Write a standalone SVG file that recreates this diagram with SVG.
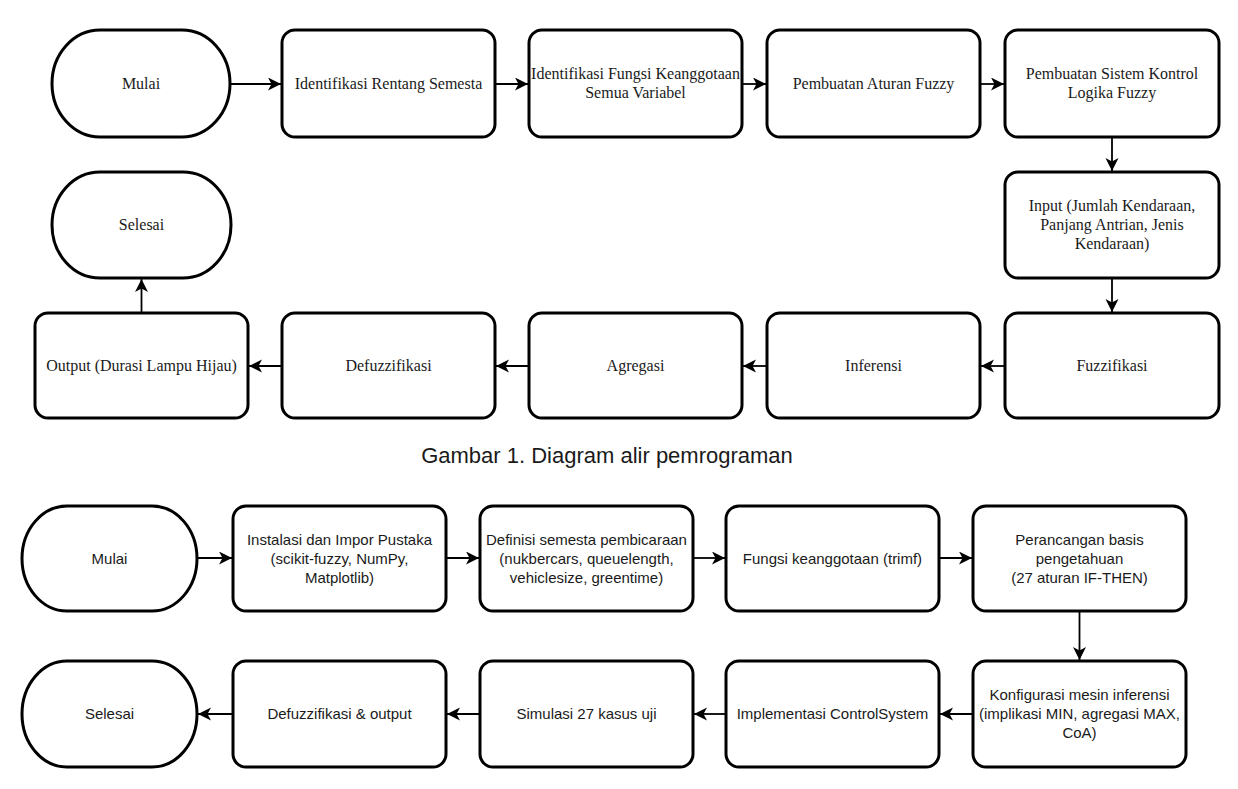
<svg xmlns="http://www.w3.org/2000/svg" width="1238" height="789" viewBox="0 0 1238 789">
<style>
.shape{fill:#fff;stroke:#000;stroke-width:3}
.edge{fill:none;stroke:#000;stroke-width:1.8}
.t1{font-family:"Liberation Serif","Times New Roman",serif;font-size:16px;fill:#1a1a1a;text-anchor:middle}
.t2{font-family:"Liberation Sans",Arial,sans-serif;font-size:15px;fill:#1a1a1a;text-anchor:middle}
.cap{font-family:"Liberation Sans",Arial,sans-serif;font-size:22px;fill:#1a1a1a;text-anchor:middle}
</style>
<defs>
<marker id="arr" markerUnits="userSpaceOnUse" markerWidth="14" markerHeight="14" refX="13" refY="6.5" orient="auto">
<path d="M0,0 L13,6.5 L0,13 L3.5,6.5 z" fill="#000"/>
</marker>
</defs>
<rect width="1238" height="789" fill="#fff"/>

<g id="connectors">
<line class="edge" x1="230" y1="84" x2="281" y2="84" marker-end="url(#arr)"/>
<line class="edge" x1="495" y1="84" x2="528" y2="84" marker-end="url(#arr)"/>
<line class="edge" x1="742" y1="84" x2="766" y2="84" marker-end="url(#arr)"/>
<line class="edge" x1="980" y1="84" x2="1004" y2="84" marker-end="url(#arr)"/>
<line class="edge" x1="1112" y1="137" x2="1112" y2="171" marker-end="url(#arr)"/>
<line class="edge" x1="1112" y1="278" x2="1112" y2="312" marker-end="url(#arr)"/>
<line class="edge" x1="1005" y1="366" x2="981" y2="366" marker-end="url(#arr)"/>
<line class="edge" x1="767" y1="366" x2="743" y2="366" marker-end="url(#arr)"/>
<line class="edge" x1="529" y1="366" x2="496" y2="366" marker-end="url(#arr)"/>
<line class="edge" x1="282" y1="366" x2="249" y2="366" marker-end="url(#arr)"/>
<line class="edge" x1="141.5" y1="313" x2="141.5" y2="279" marker-end="url(#arr)"/>

<line class="edge" x1="197" y1="558" x2="232" y2="558" marker-end="url(#arr)"/>
<line class="edge" x1="446" y1="558" x2="479" y2="558" marker-end="url(#arr)"/>
<line class="edge" x1="693" y1="558" x2="725" y2="558" marker-end="url(#arr)"/>
<line class="edge" x1="939" y1="558" x2="972" y2="558" marker-end="url(#arr)"/>
<line class="edge" x1="1079.5" y1="611" x2="1079.5" y2="660" marker-end="url(#arr)"/>
<line class="edge" x1="973" y1="714" x2="940" y2="714" marker-end="url(#arr)"/>
<line class="edge" x1="726" y1="714" x2="694" y2="714" marker-end="url(#arr)"/>
<line class="edge" x1="480" y1="714" x2="447" y2="714" marker-end="url(#arr)"/>
<line class="edge" x1="233" y1="714" x2="198" y2="714" marker-end="url(#arr)"/>
</g>

<g id="a-mulai"><rect class="shape" x="52" y="30" width="178" height="107" rx="48" ry="53.5"/><text class="t1" x="141" y="89">Mulai</text></g>
<g id="a-rentang"><rect class="shape" x="282" y="30" width="213" height="107" rx="13"/><text class="t1" x="388.5" y="89">Identifikasi Rentang Semesta</text></g>
<g id="a-fungsi"><rect class="shape" x="529" y="30" width="213" height="107" rx="13"/><text class="t1" x="635.5" y="79">Identifikasi Fungsi Keanggotaan</text><text class="t1" x="635.5" y="98">Semua Variabel</text></g>
<g id="a-aturan"><rect class="shape" x="767" y="30" width="213" height="107" rx="13"/><text class="t1" x="873.5" y="89">Pembuatan Aturan Fuzzy</text></g>
<g id="a-sistem"><rect class="shape" x="1005" y="30" width="214" height="107" rx="13"/><text class="t1" x="1112" y="79">Pembuatan Sistem Kontrol</text><text class="t1" x="1112" y="98">Logika Fuzzy</text></g>
<g id="a-input"><rect class="shape" x="1005" y="172" width="214" height="106" rx="13"/><text class="t1" x="1112" y="211">Input (Jumlah Kendaraan,</text><text class="t1" x="1112" y="230">Panjang Antrian, Jenis</text><text class="t1" x="1112" y="249">Kendaraan)</text></g>
<g id="a-selesai"><rect class="shape" x="52" y="172" width="179" height="106" rx="48" ry="53"/><text class="t1" x="141.5" y="230">Selesai</text></g>
<g id="a-fuzz"><rect class="shape" x="1005" y="313" width="214" height="105" rx="13"/><text class="t1" x="1112" y="371">Fuzzifikasi</text></g>
<g id="a-inferensi"><rect class="shape" x="767" y="313" width="213" height="105" rx="13"/><text class="t1" x="873.5" y="371">Inferensi</text></g>
<g id="a-agregasi"><rect class="shape" x="529" y="313" width="213" height="105" rx="13"/><text class="t1" x="635.5" y="371">Agregasi</text></g>
<g id="a-defuzz"><rect class="shape" x="282" y="313" width="213" height="105" rx="13"/><text class="t1" x="388.5" y="371">Defuzzifikasi</text></g>
<g id="a-output"><rect class="shape" x="35" y="313" width="213" height="105" rx="13"/><text class="t1" x="141.5" y="371">Output (Durasi Lampu Hijau)</text></g>

<text class="cap" x="607" y="463">Gambar 1. Diagram alir pemrograman</text>

<g id="b-mulai"><rect class="shape" x="22" y="506" width="175" height="105" rx="45" ry="52.5"/><text class="t2" x="109.5" y="563.5">Mulai</text></g>
<g id="b-instalasi"><rect class="shape" x="233" y="506" width="213" height="105" rx="13"/><text class="t2" x="339.5" y="544.5">Instalasi dan Impor Pustaka</text><text class="t2" x="339.5" y="563.5">(scikit-fuzzy, NumPy,</text><text class="t2" x="339.5" y="582.5">Matplotlib)</text></g>
<g id="b-definisi"><rect class="shape" x="480" y="506" width="213" height="105" rx="13"/><text class="t2" x="586.5" y="544.5">Definisi semesta pembicaraan</text><text class="t2" x="586.5" y="563.5">(nukbercars, queuelength,</text><text class="t2" x="586.5" y="582.5">vehiclesize, greentime)</text></g>
<g id="b-fungsi"><rect class="shape" x="726" y="506" width="213" height="105" rx="13"/><text class="t2" x="832.5" y="563.5">Fungsi keanggotaan (trimf)</text></g>
<g id="b-perancangan"><rect class="shape" x="973" y="506" width="213" height="105" rx="13"/><text class="t2" x="1079.5" y="544.5">Perancangan basis</text><text class="t2" x="1079.5" y="563.5">pengetahuan</text><text class="t2" x="1079.5" y="582.5">(27 aturan IF-THEN)</text></g>
<g id="b-konfigurasi"><rect class="shape" x="973" y="661" width="213" height="106" rx="13"/><text class="t2" x="1079.5" y="700">Konfigurasi mesin inferensi</text><text class="t2" x="1079.5" y="719">(implikasi MIN, agregasi MAX,</text><text class="t2" x="1079.5" y="738">CoA)</text></g>
<g id="b-implementasi"><rect class="shape" x="726" y="661" width="213" height="106" rx="13"/><text class="t2" x="832.5" y="719">Implementasi ControlSystem</text></g>
<g id="b-simulasi"><rect class="shape" x="480" y="661" width="213" height="106" rx="13"/><text class="t2" x="586.5" y="719">Simulasi 27 kasus uji</text></g>
<g id="b-defuzz"><rect class="shape" x="233" y="661" width="213" height="106" rx="13"/><text class="t2" x="339.5" y="719">Defuzzifikasi &amp; output</text></g>
<g id="b-selesai"><rect class="shape" x="22" y="661" width="175" height="106" rx="45" ry="53"/><text class="t2" x="109.5" y="719">Selesai</text></g>
</svg>
